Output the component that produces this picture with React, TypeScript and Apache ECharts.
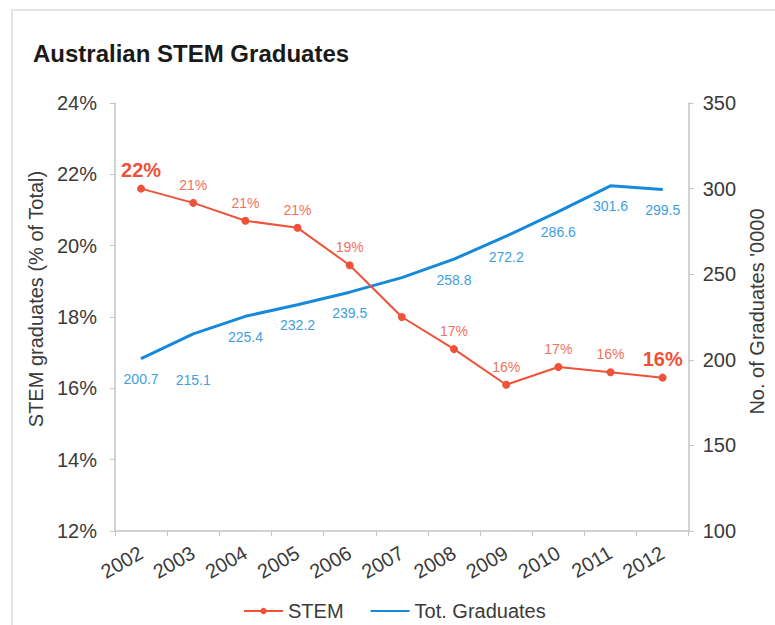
import React, { useEffect, useRef } from "react";
import * as echarts from "echarts";

const years = ["2002", "2003", "2004", "2005", "2006", "2007", "2008", "2009", "2010", "2011", "2012"];
const stemPct = [21.6, 21.2, 20.7, 20.5, 19.45, 18.0, 17.1, 16.1, 16.6, 16.45, 16.3];
const totalGrads = [200.7, 215.1, 225.4, 232.2, 239.5, 248.0, 258.8, 272.2, 286.6, 301.6, 299.5];
const leftTicks = { min: 12, max: 24, interval: 2 };
const rightTicks = { min: 100, max: 350, interval: 50 };

const FONT = "'Liberation Sans', Arial, sans-serif";
const RED = "#EE5238";
const RED_LABEL = "#F2705E";
const BLUE = "#1789DA";
const BLUE_LABEL = "#3D9FE0";
const AXIS = "#c4c4c4";
const TEXT = "#3a3a3a";

export default function App() {
  const ref = useRef<HTMLDivElement>(null);
  useEffect(() => {
    document.body.style.margin = "0";
    if (!ref.current) return;
    const chart = echarts.init(ref.current, null, { renderer: "svg" });
    const last = stemPct.length - 1;
    const stemData = stemPct.map((v, i) => {
      if (i === 5) return { value: v, label: { show: false } };
      if (i === 0 || i === last)
        return {
          value: v,
          label: { fontSize: 20, fontWeight: "bold", color: RED, distance: 5 },
        };
      return v;
    });
    const totData = totalGrads.map((v, i) => {
      if (i === 5) return { value: v, label: { show: false } };
      if (i === 1) return { value: v, label: { distance: 39 } };
      return v;
    });
    chart.setOption({
      animation: false,
      textStyle: { fontFamily: FONT },
      title: {
        text: "Australian STEM Graduates",
        left: 33,
        top: 41,
        padding: 0,
        textStyle: { fontSize: 24, fontWeight: "bold", color: "#1a1a1a", fontFamily: FONT },
      },
      graphic: [
        {
          type: "rect",
          z: -10,
          shape: { x: 12, y: 10, width: 900, height: 800 },
          style: { fill: "none", stroke: "#e4e4e4", lineWidth: 2 },
        },
      ],
      legend: {
        left: 243,
        top: 600,
        padding: 0,
        itemWidth: 39,
        itemHeight: 8,
        itemGap: 26,
        textStyle: { fontSize: 20, lineHeight: 22, color: TEXT, fontFamily: FONT },
        data: [
          { name: "STEM" },
          { name: "Tot. Graduates", itemStyle: { opacity: 0 } },
        ],
      },
      grid: { left: 115, right: 82, top: 103, bottom: 94 },
      xAxis: {
        type: "category",
        data: years,
        boundaryGap: true,
        axisLine: { show: true, lineStyle: { color: AXIS, width: 1.5 } },
        axisTick: { show: true, length: 5, lineStyle: { color: AXIS } },
        axisLabel: { rotate: 30, margin: 20, fontSize: 20, color: TEXT, fontFamily: FONT },
      },
      yAxis: [
        {
          type: "value",
          min: leftTicks.min,
          max: leftTicks.max,
          interval: leftTicks.interval,
          name: "STEM graduates (% of Total)",
          nameLocation: "middle",
          nameRotate: 90,
          nameGap: 68,
          nameTextStyle: { fontSize: 20, color: TEXT, fontFamily: FONT, padding: [0, 0, 0, 36] },
          splitLine: { show: false },
          axisLine: { show: true, lineStyle: { color: AXIS, width: 1.5 } },
          axisTick: { show: true, length: 5, lineStyle: { color: AXIS } },
          axisLabel: { formatter: "{value}%", margin: 18, fontSize: 20, color: TEXT, fontFamily: FONT },
        },
        {
          type: "value",
          min: rightTicks.min,
          max: rightTicks.max,
          interval: rightTicks.interval,
          position: "right",
          name: "No. of Graduates '0000",
          nameLocation: "middle",
          nameRotate: 90,
          nameGap: 56,
          nameTextStyle: { fontSize: 20, color: TEXT, fontFamily: FONT, padding: [0, 0, 0, 11] },
          splitLine: { show: false },
          axisLine: { show: true, lineStyle: { color: AXIS, width: 1.5 } },
          axisTick: { show: true, length: 5, lineStyle: { color: AXIS } },
          axisLabel: { margin: 14, fontSize: 20, color: TEXT, fontFamily: FONT },
        },
      ],
      series: [
        {
          name: "STEM",
          type: "line",
          yAxisIndex: 0,
          data: stemData,
          symbol: "circle",
          symbolSize: 8,
          itemStyle: { color: RED },
          lineStyle: { color: RED, width: 2 },
          label: {
            show: true,
            position: "top",
            distance: 7,
            fontSize: 14,
            color: RED_LABEL,
            fontFamily: FONT,
            formatter: (p: any) => Math.round(p.value) + "%",
          },
          z: 3,
        },
        {
          name: "Tot. Graduates",
          type: "line",
          yAxisIndex: 1,
          data: totData,
          symbol: "circle",
          symbolSize: 1,
          itemStyle: { color: BLUE },
          lineStyle: { color: BLUE, width: 3 },
          label: {
            show: true,
            position: "bottom",
            distance: 13,
            fontSize: 14,
            color: BLUE_LABEL,
            fontFamily: FONT,
            formatter: (p: any) => p.value.toFixed(1),
          },
          z: 2,
        },
      ],
    });
    return () => chart.dispose();
  }, []);
  return <div ref={ref} style={{ width: 775, height: 625 }} />;
}
